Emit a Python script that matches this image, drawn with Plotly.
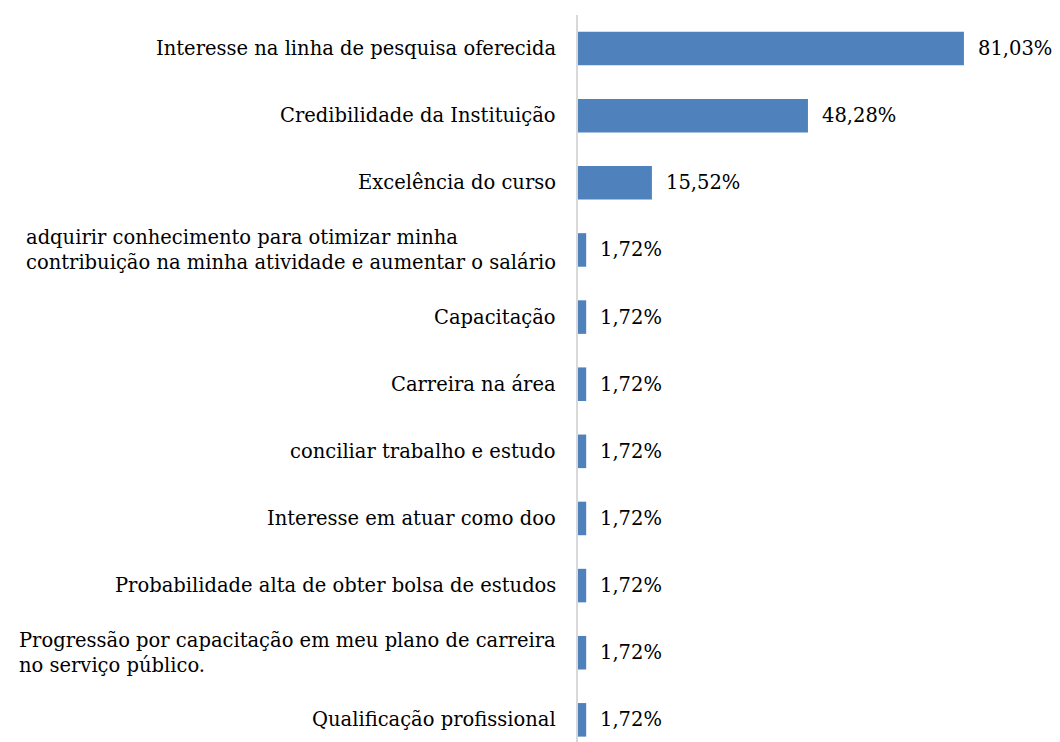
import plotly.graph_objects as go

categories = [
    "Interesse na linha de pesquisa oferecida",
    "Credibilidade da Instituição",
    "Excelência do curso",
    "adquirir conhecimento para otimizar minha<br>contribuição na minha atividade e aumentar o salário",
    "Capacitação",
    "Carreira na área",
    "conciliar trabalho e estudo",
    "Interesse em atuar como doo",
    "Probabilidade alta de obter bolsa de estudos",
    "Progressão por capacitação em meu plano de carreira<br>no serviço público.",
    "Qualificação profissional",
]
values = [81.03, 48.28, 15.52, 1.72, 1.72, 1.72, 1.72, 1.72, 1.72, 1.72, 1.72]
value_labels = ["81,03%", "48,28%", "15,52%", "1,72%", "1,72%", "1,72%",
                "1,72%", "1,72%", "1,72%", "1,72%", "1,72%"]

FONT = "DejaVu Serif"
FS = 19.5
positions = list(range(len(categories)))

fig = go.Figure()
fig.add_trace(go.Bar(
    x=values, y=positions, orientation="h",
    marker=dict(color="#4F81BD", line=dict(width=0)),
    width=0.5, hoverinfo="skip",
))

annotations = []
for i, (cat, v, lab) in enumerate(zip(categories, values, value_labels)):
    annotations.append(dict(
        x=0, y=i, xref="x", yref="y", text=cat, showarrow=False,
        xanchor="right", yanchor="middle", align="left", xshift=-20,
        font=dict(family=FONT, size=FS, color="#000000"),
    ))
    annotations.append(dict(
        x=v, y=i, xref="x", yref="y", text=lab, showarrow=False,
        xanchor="left", yanchor="middle", align="left", xshift=12,
        font=dict(family=FONT, size=FS, color="#000000"),
    ))

fig.update_layout(
    width=1052, height=734,
    margin=dict(l=570, r=0, t=7, b=0, autoexpand=False),
    paper_bgcolor="white", plot_bgcolor="white",
    showlegend=False,
    annotations=annotations,
    xaxis=dict(range=[0, 101.2], showgrid=False, zeroline=False,
               showticklabels=False, showline=False, ticks=""),
    yaxis=dict(range=[10.33, -0.5], showgrid=False, zeroline=False,
               showticklabels=False, showline=True, linecolor="#D9D9D9",
               linewidth=1.5, ticks=""),
)

fig.write_html("out.html")
